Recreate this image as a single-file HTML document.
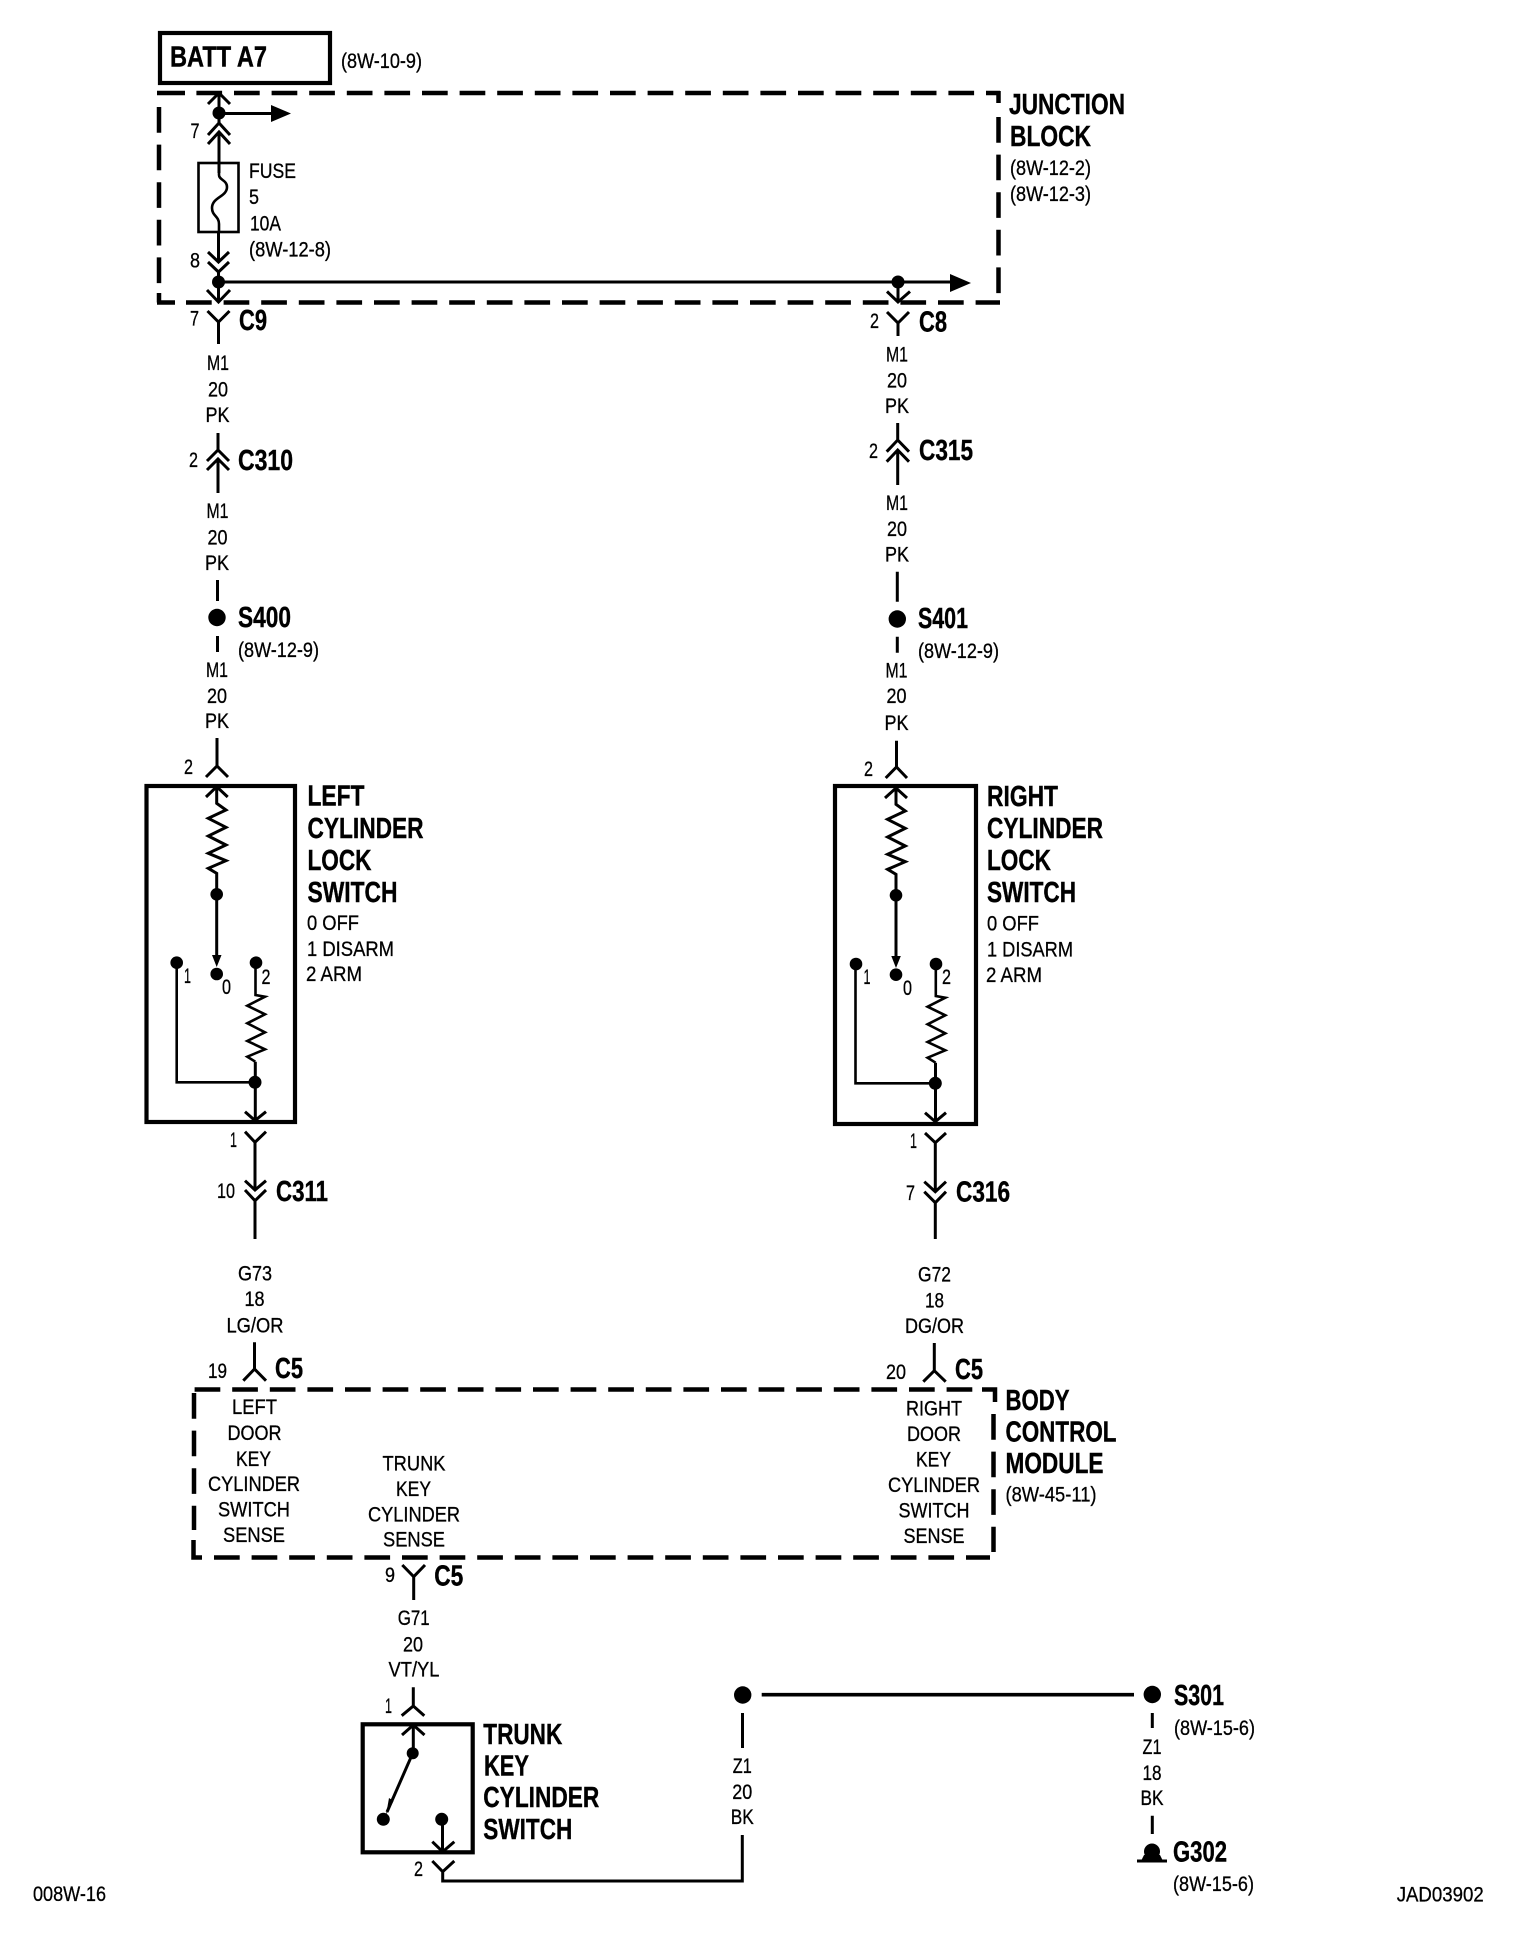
<!DOCTYPE html>
<html><head><meta charset="utf-8"><style>
html,body{margin:0;padding:0;background:#fff;width:1520px;height:1942px;overflow:hidden}
svg{display:block}
.r{font:21px "Liberation Sans",sans-serif;fill:#000;stroke:#000;stroke-width:.3}
.b{font:bold 29px "Liberation Sans",sans-serif;fill:#000;stroke:#000;stroke-width:.4}
.m{text-anchor:middle}
.w{fill:none;stroke:#000;stroke-width:3}
.t{fill:none;stroke:#000;stroke-width:2.6}
.d{fill:none;stroke:#000;stroke-width:4.5;stroke-dasharray:25.7 11.9}
.s{fill:none;stroke:#000;stroke-width:4.5}
.box{fill:none;stroke:#000;stroke-width:4.2}
</style></head><body>
<svg width="1520" height="1942" viewBox="0 0 1520 1942" xmlns="http://www.w3.org/2000/svg">
<!-- BATT -->
<rect x="160" y="33" width="170" height="50" class="box"/>
<text x="170" y="66.5" class="b" textLength="97" lengthAdjust="spacingAndGlyphs">BATT A7</text>
<text x="341" y="68" class="r" textLength="81" lengthAdjust="spacingAndGlyphs">(8W-10-9)</text>
<!-- Junction block dashed -->
<path class="s" d="M157 93H185"/>
<path class="d" d="M196.4 93H1000"/>
<path class="s" d="M157 302.5H175M159 293V302.5"/>
<path class="d" d="M186 302.5H1000"/>
<path class="d" d="M159 107V293"/>
<path class="s" d="M998.5 91V103"/>
<path class="d" d="M998.5 117V304"/>
<text x="1009" y="114" class="b" textLength="116" lengthAdjust="spacingAndGlyphs">JUNCTION</text>
<text x="1010" y="146" class="b" textLength="81" lengthAdjust="spacingAndGlyphs">BLOCK</text>
<text x="1010" y="175" class="r" textLength="81" lengthAdjust="spacingAndGlyphs">(8W-12-2)</text>
<text x="1010" y="201" class="r" textLength="81" lengthAdjust="spacingAndGlyphs">(8W-12-3)</text>
<!-- Left top wiring -->
<path class="w" d="M208 104L219 93L230 104M219 93V123M208 135L219 123L230 135M208 144L219 132L230 144M219 132V173"/>
<circle cx="219" cy="113" r="6.5"/>
<path class="w" d="M219 113.5H273"/>
<path d="M271 105L291 113.5L271 122Z"/>
<rect x="198.5" y="163" width="40" height="69" class="t"/>
<path class="t" d="M219 163V175C219 180 227 180 227 187C227 197 212 197 212 208C212 216 219 216 219 224V232"/>
<path class="w" d="M218.5 232V262M208 252L218.5 262L229 252M208 262L218.5 272L229 262M218.5 272V302M207 290L218.5 302L230 290"/>
<circle cx="218.5" cy="282" r="6.5"/>
<path class="w" d="M218.5 282H952"/>
<path d="M950 274L971 283L950 292Z"/>
<circle cx="898" cy="282" r="6.5"/>
<path class="w" d="M898 282V302M887 291.5L898 302L910 291.5"/>
<text x="249" y="178" class="r" textLength="47" lengthAdjust="spacingAndGlyphs">FUSE</text>
<text x="249" y="204" class="r" textLength="10" lengthAdjust="spacingAndGlyphs">5</text>
<text x="250" y="230.5" class="r" textLength="31" lengthAdjust="spacingAndGlyphs">10A</text>
<text x="249" y="256.5" class="r" textLength="82" lengthAdjust="spacingAndGlyphs">(8W-12-8)</text>
<text x="190.5" y="138" class="r" textLength="9" lengthAdjust="spacingAndGlyphs">7</text>
<text x="190" y="267.5" class="r" textLength="10" lengthAdjust="spacingAndGlyphs">8</text>
<!-- C9 -->
<path class="w" d="M207.5 311L218.5 322L229.5 311M218.5 322V344"/>
<text x="190" y="325.5" class="r" textLength="9" lengthAdjust="spacingAndGlyphs">7</text>
<text x="239" y="330" class="b" textLength="28" lengthAdjust="spacingAndGlyphs">C9</text>
<text x="218" y="370" class="r m" textLength="22" lengthAdjust="spacingAndGlyphs">M1</text>
<text x="218" y="396.5" class="r m" textLength="20" lengthAdjust="spacingAndGlyphs">20</text>
<text x="217.5" y="422" class="r m" textLength="24" lengthAdjust="spacingAndGlyphs">PK</text>
<!-- C310 -->
<path class="w" d="M218 433V450M207 461L218 450L229 461M207 470L218 459L229 470M218 459V493"/>
<text x="189" y="467" class="r" textLength="9" lengthAdjust="spacingAndGlyphs">2</text>
<text x="238" y="470" class="b" textLength="55" lengthAdjust="spacingAndGlyphs">C310</text>
<text x="217.5" y="518" class="r m" textLength="22" lengthAdjust="spacingAndGlyphs">M1</text>
<text x="217.5" y="544.5" class="r m" textLength="20" lengthAdjust="spacingAndGlyphs">20</text>
<text x="217" y="570" class="r m" textLength="24" lengthAdjust="spacingAndGlyphs">PK</text>
<path class="w" d="M217.5 580V601M217.5 636V652"/>
<circle cx="217" cy="617.5" r="8.7"/>
<text x="238" y="627" class="b" textLength="53" lengthAdjust="spacingAndGlyphs">S400</text>
<text x="238" y="657" class="r" textLength="81" lengthAdjust="spacingAndGlyphs">(8W-12-9)</text>
<text x="217" y="677" class="r m" textLength="22" lengthAdjust="spacingAndGlyphs">M1</text>
<text x="217" y="703" class="r m" textLength="20" lengthAdjust="spacingAndGlyphs">20</text>
<text x="217" y="728" class="r m" textLength="24" lengthAdjust="spacingAndGlyphs">PK</text>
<path class="w" d="M217 738V766M206 777L217 766L228 777"/>
<text x="184" y="774" class="r" textLength="9" lengthAdjust="spacingAndGlyphs">2</text>
<!-- Left switch -->
<rect x="146.5" y="786" width="148.5" height="336" class="box"/>
<path class="w" d="M206 797L216.7 786.7L227.7 797M216.7 787V803.3L226 810L208.3 818.3L226 827.3L208.3 836L226 845L208.3 853.3L226 860.7L208.3 868.3L216.7 873.3V958"/>
<circle cx="216.7" cy="894.3" r="6.3"/>
<path d="M212 955L221.5 955L216.7 967Z"/>
<circle cx="216.7" cy="974" r="6.3"/>
<circle cx="176.7" cy="962.7" r="6.3"/>
<circle cx="256" cy="962.7" r="6.3"/>
<path class="t" d="M176.7 962V1082.3H255"/>
<path class="t" d="M255.5 962V995L265 996.7L247.3 1005.7L265 1014.3L247.3 1023.3L265 1032.3L247.3 1041L265 1049.3L247.3 1056.7L255.3 1061.7"/>
<path class="w" d="M255.3 1061.7V1121M245 1111.7L255 1120.5L266 1111.7"/>
<circle cx="255" cy="1082.3" r="6.5"/>
<path class="w" d="M245 1131.7L255 1142.3L266 1131.7M255 1142.3V1190M245 1180.7L255 1190L266 1180.7M245 1190L255 1200.7L266 1190M255 1200.7V1239"/>
<text x="184" y="983" class="r" textLength="7" lengthAdjust="spacingAndGlyphs">1</text>
<text x="222" y="994" class="r" textLength="9" lengthAdjust="spacingAndGlyphs">0</text>
<text x="261.5" y="984" class="r" textLength="9" lengthAdjust="spacingAndGlyphs">2</text>
<text x="307.5" y="805.5" class="b" textLength="57" lengthAdjust="spacingAndGlyphs">LEFT</text>
<text x="307.5" y="838" class="b" textLength="116" lengthAdjust="spacingAndGlyphs">CYLINDER</text>
<text x="307.5" y="870" class="b" textLength="64" lengthAdjust="spacingAndGlyphs">LOCK</text>
<text x="307.5" y="902" class="b" textLength="90" lengthAdjust="spacingAndGlyphs">SWITCH</text>
<text x="307" y="930" class="r" textLength="52" lengthAdjust="spacingAndGlyphs">0 OFF</text>
<text x="307" y="956" class="r" textLength="87" lengthAdjust="spacingAndGlyphs">1 DISARM</text>
<text x="306" y="981" class="r" textLength="56" lengthAdjust="spacingAndGlyphs">2 ARM</text>
<text x="230" y="1147" class="r" textLength="7" lengthAdjust="spacingAndGlyphs">1</text>
<text x="217" y="1198" class="r" textLength="18" lengthAdjust="spacingAndGlyphs">10</text>
<text x="276" y="1201" class="b" textLength="52" lengthAdjust="spacingAndGlyphs">C311</text>
<text x="255" y="1280.5" class="r m" textLength="34" lengthAdjust="spacingAndGlyphs">G73</text>
<text x="254.5" y="1306" class="r m" textLength="20" lengthAdjust="spacingAndGlyphs">18</text>
<text x="255" y="1332.5" class="r m" textLength="57" lengthAdjust="spacingAndGlyphs">LG/OR</text>
<path class="w" d="M254.5 1342.3V1369M243.3 1380.7L254.5 1369L266 1380.7"/>
<text x="208" y="1378" class="r" textLength="19" lengthAdjust="spacingAndGlyphs">19</text>
<text x="275" y="1378" class="b" textLength="28" lengthAdjust="spacingAndGlyphs">C5</text>
<!-- Right wiring top -->
<path class="w" d="M887 312L898 323L909 312M898 323V336"/>
<text x="870" y="328" class="r" textLength="9" lengthAdjust="spacingAndGlyphs">2</text>
<text x="919" y="331.5" class="b" textLength="28" lengthAdjust="spacingAndGlyphs">C8</text>
<text x="897" y="361.5" class="r m" textLength="22" lengthAdjust="spacingAndGlyphs">M1</text>
<text x="897" y="387.5" class="r m" textLength="20" lengthAdjust="spacingAndGlyphs">20</text>
<text x="897" y="413" class="r m" textLength="24" lengthAdjust="spacingAndGlyphs">PK</text>
<path class="w" d="M897.7 423V440M886.7 451.7L897.7 440L909 451.7M886.7 461.7L897.7 450L909 461.7M897.7 450V485"/>
<text x="869" y="458" class="r" textLength="9" lengthAdjust="spacingAndGlyphs">2</text>
<text x="919" y="460" class="b" textLength="54" lengthAdjust="spacingAndGlyphs">C315</text>
<text x="897" y="510" class="r m" textLength="22" lengthAdjust="spacingAndGlyphs">M1</text>
<text x="897" y="536" class="r m" textLength="20" lengthAdjust="spacingAndGlyphs">20</text>
<text x="897" y="561.5" class="r m" textLength="24" lengthAdjust="spacingAndGlyphs">PK</text>
<path class="w" d="M897.3 571.7V601.7M897.3 636.7V652.7"/>
<circle cx="897.3" cy="619" r="8.7"/>
<text x="918" y="628" class="b" textLength="50" lengthAdjust="spacingAndGlyphs">S401</text>
<text x="918" y="658" class="r" textLength="81" lengthAdjust="spacingAndGlyphs">(8W-12-9)</text>
<text x="896.5" y="677.5" class="r m" textLength="22" lengthAdjust="spacingAndGlyphs">M1</text>
<text x="896.5" y="703" class="r m" textLength="20" lengthAdjust="spacingAndGlyphs">20</text>
<text x="896.5" y="730" class="r m" textLength="24" lengthAdjust="spacingAndGlyphs">PK</text>
<path class="w" d="M896.5 740.7V767M885.7 778L896.5 767L907 778"/>
<text x="864" y="776" class="r" textLength="9" lengthAdjust="spacingAndGlyphs">2</text>
<!-- Right switch -->
<rect x="835" y="786" width="141" height="338" class="box"/>
<path class="w" d="M885 798L896 788L907 798M896 788V804.3L905.3 811L887.6 819.3L905.3 828.3L887.6 837L905.3 846L887.6 854.3L905.3 861.7L887.6 869.3L896 874.3V959"/>
<circle cx="896" cy="895.3" r="6.3"/>
<path d="M891.3 956L900.8 956L896 968Z"/>
<circle cx="896" cy="974.7" r="6.3"/>
<circle cx="856" cy="964" r="6.3"/>
<circle cx="936" cy="964" r="6.3"/>
<path class="t" d="M855.5 963V1083.3H935"/>
<path class="t" d="M935.8 963V996L945.3 997.7L927.6 1006.7L945.3 1015.3L927.6 1024.3L945.3 1033.3L927.6 1042L945.3 1050.3L927.6 1057.7L935.6 1062.7"/>
<path class="w" d="M935.5 1062.7V1122.5M925 1112.7L935.3 1121.7L946 1112.7"/>
<circle cx="935.3" cy="1083.3" r="6.5"/>
<path class="w" d="M925 1133L935.3 1142.7L946 1133M935.3 1142.7V1191.7M924.3 1181.7L935.3 1191.7L946 1181.7M924.3 1191.7L935.3 1202.7L946 1191.7M935.3 1202.7V1239"/>
<text x="863.5" y="984" class="r" textLength="7" lengthAdjust="spacingAndGlyphs">1</text>
<text x="903" y="995" class="r" textLength="9" lengthAdjust="spacingAndGlyphs">0</text>
<text x="942" y="984" class="r" textLength="9" lengthAdjust="spacingAndGlyphs">2</text>
<text x="987" y="806" class="b" textLength="71" lengthAdjust="spacingAndGlyphs">RIGHT</text>
<text x="987" y="838" class="b" textLength="116" lengthAdjust="spacingAndGlyphs">CYLINDER</text>
<text x="987" y="870" class="b" textLength="64" lengthAdjust="spacingAndGlyphs">LOCK</text>
<text x="987" y="902" class="b" textLength="89" lengthAdjust="spacingAndGlyphs">SWITCH</text>
<text x="987" y="930.5" class="r" textLength="52" lengthAdjust="spacingAndGlyphs">0 OFF</text>
<text x="987" y="956.5" class="r" textLength="86" lengthAdjust="spacingAndGlyphs">1 DISARM</text>
<text x="986" y="982" class="r" textLength="56" lengthAdjust="spacingAndGlyphs">2 ARM</text>
<text x="910" y="1148" class="r" textLength="7" lengthAdjust="spacingAndGlyphs">1</text>
<text x="906" y="1200" class="r" textLength="9" lengthAdjust="spacingAndGlyphs">7</text>
<text x="956" y="1201.5" class="b" textLength="54" lengthAdjust="spacingAndGlyphs">C316</text>
<text x="934.5" y="1281.5" class="r m" textLength="33" lengthAdjust="spacingAndGlyphs">G72</text>
<text x="934.5" y="1307.5" class="r m" textLength="19" lengthAdjust="spacingAndGlyphs">18</text>
<text x="934.5" y="1333" class="r m" textLength="59" lengthAdjust="spacingAndGlyphs">DG/OR</text>
<path class="w" d="M934.3 1343V1370.7M923.3 1381.7L934.3 1370.7L945.7 1381.7"/>
<text x="886" y="1379" class="r" textLength="20" lengthAdjust="spacingAndGlyphs">20</text>
<text x="955" y="1379" class="b" textLength="28" lengthAdjust="spacingAndGlyphs">C5</text>
<!-- BCM dashed -->
<path class="d" d="M194.6 1389.5H982"/>
<path class="s" d="M982 1389.5H995V1402"/>
<path class="d" d="M993.5 1414V1552"/>
<path class="d" d="M194 1393V1530"/>
<path class="s" d="M193.5 1540V1557.5H202"/>
<path class="d" d="M214 1557.5H990"/>
<text x="254.5" y="1414" class="r m" textLength="45" lengthAdjust="spacingAndGlyphs">LEFT</text>
<text x="254.5" y="1440" class="r m" textLength="54" lengthAdjust="spacingAndGlyphs">DOOR</text>
<text x="253.5" y="1466" class="r m" textLength="35" lengthAdjust="spacingAndGlyphs">KEY</text>
<text x="254" y="1491" class="r m" textLength="92" lengthAdjust="spacingAndGlyphs">CYLINDER</text>
<text x="254" y="1516.5" class="r m" textLength="72" lengthAdjust="spacingAndGlyphs">SWITCH</text>
<text x="254" y="1542" class="r m" textLength="62" lengthAdjust="spacingAndGlyphs">SENSE</text>
<text x="414" y="1470.5" class="r m" textLength="63" lengthAdjust="spacingAndGlyphs">TRUNK</text>
<text x="413.5" y="1496" class="r m" textLength="35" lengthAdjust="spacingAndGlyphs">KEY</text>
<text x="414" y="1521.5" class="r m" textLength="92" lengthAdjust="spacingAndGlyphs">CYLINDER</text>
<text x="414" y="1546.5" class="r m" textLength="62" lengthAdjust="spacingAndGlyphs">SENSE</text>
<text x="934" y="1415.5" class="r m" textLength="56" lengthAdjust="spacingAndGlyphs">RIGHT</text>
<text x="934" y="1441" class="r m" textLength="54" lengthAdjust="spacingAndGlyphs">DOOR</text>
<text x="933.5" y="1466.5" class="r m" textLength="35" lengthAdjust="spacingAndGlyphs">KEY</text>
<text x="934" y="1492" class="r m" textLength="92" lengthAdjust="spacingAndGlyphs">CYLINDER</text>
<text x="934" y="1517.5" class="r m" textLength="71" lengthAdjust="spacingAndGlyphs">SWITCH</text>
<text x="934" y="1543" class="r m" textLength="61" lengthAdjust="spacingAndGlyphs">SENSE</text>
<text x="1005.5" y="1410" class="b" textLength="64" lengthAdjust="spacingAndGlyphs">BODY</text>
<text x="1005.5" y="1441.5" class="b" textLength="111" lengthAdjust="spacingAndGlyphs">CONTROL</text>
<text x="1005.5" y="1473" class="b" textLength="98" lengthAdjust="spacingAndGlyphs">MODULE</text>
<text x="1005.5" y="1501.5" class="r" textLength="91" lengthAdjust="spacingAndGlyphs">(8W-45-11)</text>
<!-- C5 pin 9 -->
<path class="w" d="M402.3 1565L413.7 1576.7L425 1565M413.7 1576.7V1600"/>
<text x="385" y="1582" class="r" textLength="10" lengthAdjust="spacingAndGlyphs">9</text>
<text x="434.3" y="1585.5" class="b" textLength="29" lengthAdjust="spacingAndGlyphs">C5</text>
<text x="413.7" y="1625" class="r m" textLength="32" lengthAdjust="spacingAndGlyphs">G71</text>
<text x="413" y="1651.5" class="r m" textLength="20" lengthAdjust="spacingAndGlyphs">20</text>
<text x="414" y="1676.5" class="r m" textLength="51" lengthAdjust="spacingAndGlyphs">VT/YL</text>
<path class="w" d="M413.3 1687.3V1706M401.7 1715.7L413.3 1706L424.3 1715.7"/>
<text x="385" y="1713" class="r" textLength="7" lengthAdjust="spacingAndGlyphs">1</text>
<!-- Trunk switch -->
<rect x="362.7" y="1724.3" width="110" height="128" class="box"/>
<path class="w" d="M402 1735L413.3 1725L424.5 1735M413.3 1725V1753"/>
<circle cx="412.7" cy="1753.3" r="6"/>
<path class="w" d="M412.7 1753.3L387 1812"/>
<path d="M389 1798L393.5 1801L386 1815Z"/>
<circle cx="383.3" cy="1819.3" r="6.5"/>
<circle cx="441.7" cy="1819.3" r="6.5"/>
<path class="w" d="M442.5 1819V1852M432.3 1841.7L442.7 1851.7L454.3 1841.7"/>
<path class="w" d="M432.3 1861L442.7 1871.7L454.3 1861M442.7 1871.7V1881H742.3V1835"/>
<text x="414" y="1876" class="r" textLength="9" lengthAdjust="spacingAndGlyphs">2</text>
<text x="483.3" y="1744" class="b" textLength="79" lengthAdjust="spacingAndGlyphs">TRUNK</text>
<text x="484" y="1775.5" class="b" textLength="45" lengthAdjust="spacingAndGlyphs">KEY</text>
<text x="483.3" y="1807" class="b" textLength="116" lengthAdjust="spacingAndGlyphs">CYLINDER</text>
<text x="483.3" y="1839" class="b" textLength="89" lengthAdjust="spacingAndGlyphs">SWITCH</text>
<!-- Ground wiring -->
<circle cx="742.7" cy="1695" r="8.7"/>
<path class="w" style="stroke-width:3.6" d="M761.7 1694.7H1134"/>
<circle cx="1152.3" cy="1694.5" r="8.7"/>
<path class="w" d="M742.5 1713V1748M1152.3 1713V1728M1152.3 1815.7V1834"/>
<text x="742.3" y="1773" class="r m" textLength="19" lengthAdjust="spacingAndGlyphs">Z1</text>
<text x="742.3" y="1799" class="r m" textLength="20" lengthAdjust="spacingAndGlyphs">20</text>
<text x="742.3" y="1824" class="r m" textLength="23" lengthAdjust="spacingAndGlyphs">BK</text>
<text x="1174" y="1705" class="b" textLength="50" lengthAdjust="spacingAndGlyphs">S301</text>
<text x="1174" y="1735" class="r" textLength="81" lengthAdjust="spacingAndGlyphs">(8W-15-6)</text>
<text x="1152" y="1754" class="r m" textLength="19" lengthAdjust="spacingAndGlyphs">Z1</text>
<text x="1152" y="1780" class="r m" textLength="19" lengthAdjust="spacingAndGlyphs">18</text>
<text x="1152" y="1805" class="r m" textLength="23" lengthAdjust="spacingAndGlyphs">BK</text>
<circle cx="1152" cy="1851.5" r="8"/>
<path class="w" d="M1137 1861H1167"/>
<path d="M1144 1855H1160L1163 1861H1141Z"/>
<text x="1173" y="1861.5" class="b" textLength="54" lengthAdjust="spacingAndGlyphs">G302</text>
<text x="1173" y="1891" class="r" textLength="81" lengthAdjust="spacingAndGlyphs">(8W-15-6)</text>
<text x="1396.7" y="1901.5" class="r" textLength="87" lengthAdjust="spacingAndGlyphs">JAD03902</text>
<text x="33" y="1901" class="r" textLength="73" lengthAdjust="spacingAndGlyphs">008W-16</text>
</svg>
</body></html>
